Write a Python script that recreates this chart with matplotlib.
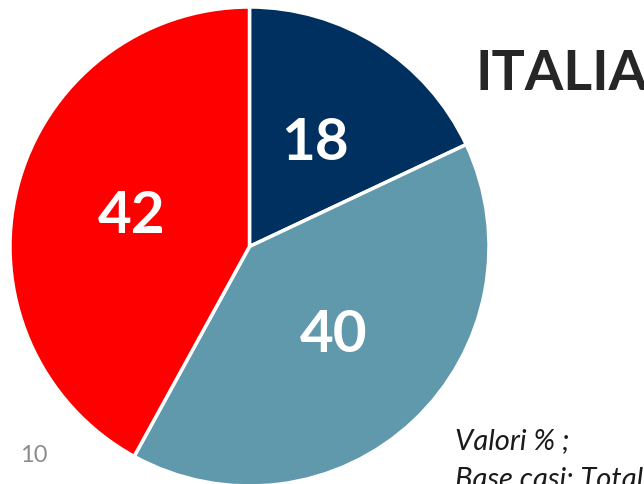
import matplotlib
matplotlib.use("Agg")
import matplotlib.pyplot as plt

categories = ["A", "B", "C"]
values = [18, 40, 42]
colors = ["#003060", "#6199AC", "#FF0000"]
title = "ITALIA"
page_number = "10"
note_lines = ["Valori % ;", "Base casi: Totale"]

plt.rcParams['font.family'] = ['Lato', 'DejaVu Sans']

W, H = 644, 484
fig = plt.figure(figsize=(6.44, 4.84), dpi=100)
ax = fig.add_axes([0, 0, 1, 1])

wedges, texts = ax.pie(values, colors=colors, startangle=90, counterclock=False,
                       center=(249.5, H - 246.5), radius=239.5, frame=True,
                       labels=[str(v) for v in values], labeldistance=0.51,
                       wedgeprops=dict(edgecolor='white', linewidth=2.5),
                       textprops=dict(color='white', fontsize=42, fontweight='bold'))
for t in texts:
    t.set_horizontalalignment('center')
    t.set_verticalalignment('center')
ax.set_xlim(0, W)
ax.set_ylim(0, H)
ax.set_aspect('equal')
ax.axis('off')

fig.text(475/W, 1 - 74/H, title, fontsize=40, fontweight='bold', color='#262626',
         ha='left', va='center')
fig.text(20/W, 1 - 455/H, page_number, fontsize=17, color='#8C8C8C',
         ha='left', va='center')
fig.text(455/W, 1 - 441/H, note_lines[0], fontsize=21, style='italic', color='#1a1a1a',
         ha='left', va='center')
fig.text(455/W, 1 - 480/H, note_lines[1], fontsize=21, style='italic', color='#1a1a1a',
         ha='left', va='center')

fig.savefig("out.png", dpi=100)
